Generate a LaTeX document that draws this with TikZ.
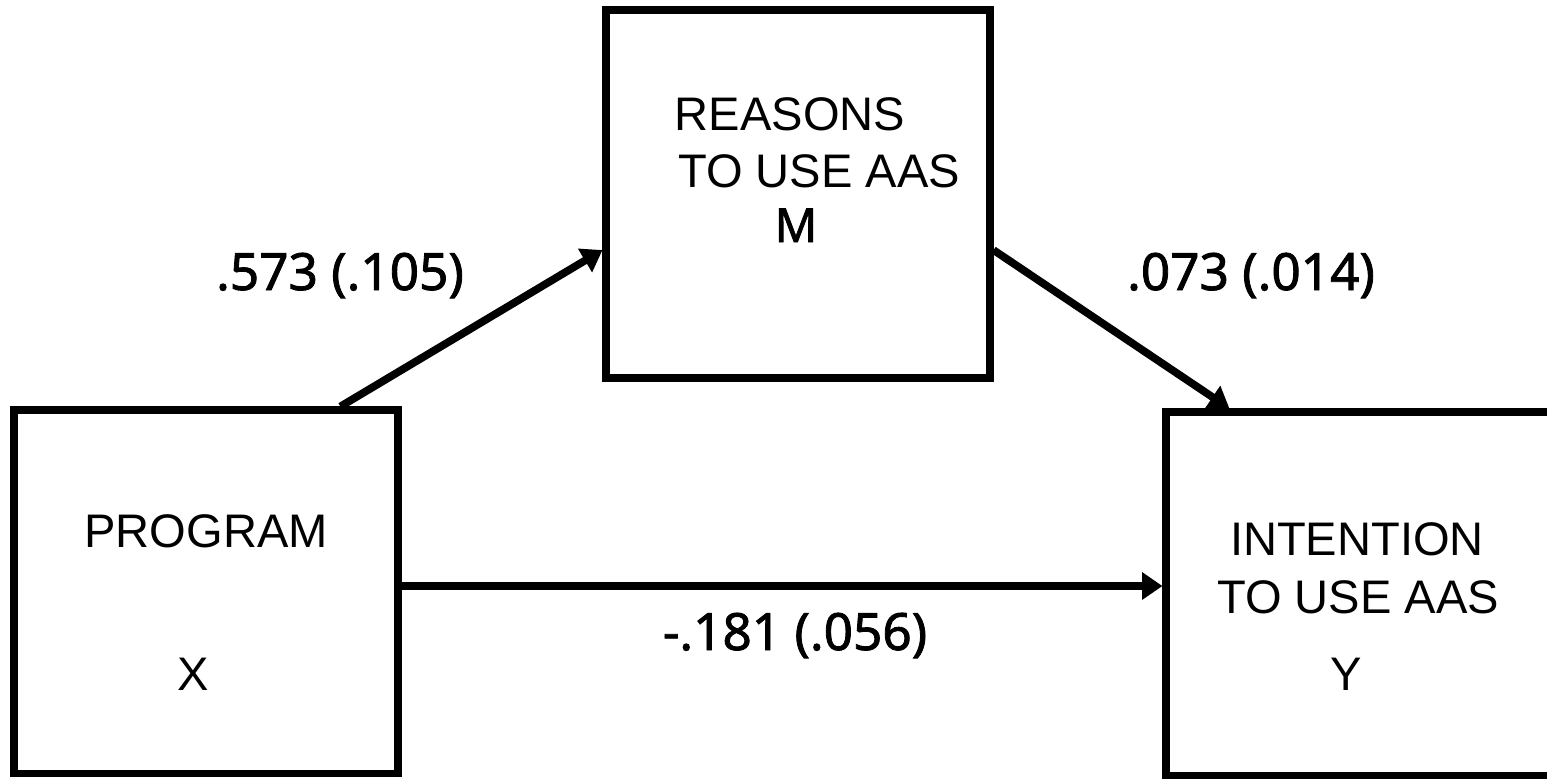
\documentclass[tikz,border=0pt]{standalone}
\usepackage{fontspec}
\setmainfont{Liberation Sans}
\newfontfamily\numfont{Noto Sans}[FakeBold=1.6]
\usetikzlibrary{arrows.meta}

\begin{document}
\begin{tikzpicture}[x=1cm,y=1cm,
    varbox/.style={draw,line width=2pt,minimum width=3.84cm,inner sep=0pt},
    boxtext/.style={anchor=base,inner sep=0pt,font=\fontsize{13.4}{16}\selectfont},
    coef/.style={anchor=base,inner sep=0pt,font=\numfont\fontsize{14.6}{16}\selectfont},
    path/.style={line width=2.2pt,-{Triangle[length=5.8pt,width=7.5pt]}}]
  \useasboundingbox (0,0) rectangle (15.47,7.78);

  % the three boxes
  \node[varbox,minimum height=3.63cm] (xbox) at (2.06,1.865) {};
  \node[varbox,minimum height=3.68cm] (mbox) at (7.98,5.84) {};
  \node[varbox,minimum height=3.63cm,minimum width=3.86cm] (ybox) at (13.59,1.845) {};

  \node[boxtext] (xname) at (2.06,2.31) {PROGRAM};
  \node[boxtext] (xsym) at (1.93,0.88) {X};

  \node[boxtext] (mname1) at (7.90,6.48) {REASONS};
  \node[boxtext] (mname2) at (8.19,5.91) {TO USE AAS};
  \node[boxtext,font=\numfont\fontsize{13.4}{16}\selectfont] (msym) at (7.96,5.36) {M};

  \node[boxtext] (yname1) at (13.57,2.23) {INTENTION};
  \node[boxtext] (yname2) at (13.58,1.65) {TO USE AAS};
  \node[boxtext] (ysym) at (13.46,0.88) {Y};

  % paths
  \coordinate (direct) at (7,1.92);
  \draw[path] (xbox.54) -- (mbox.196);
  \draw[path] (mbox.-16) -- (ybox.125);
  \draw[path] (xbox.east |- direct) -- (ybox.west |- direct);

  \node[coef] (apath) at (3.40,4.88) {.573 (.105)};
  \node[coef] (bpath) at (12.51,4.88) {.073 (.014)};
  \node[coef] (cpath) at (7.95,1.28) {-.181 (.056)};
\end{tikzpicture}
\end{document}
